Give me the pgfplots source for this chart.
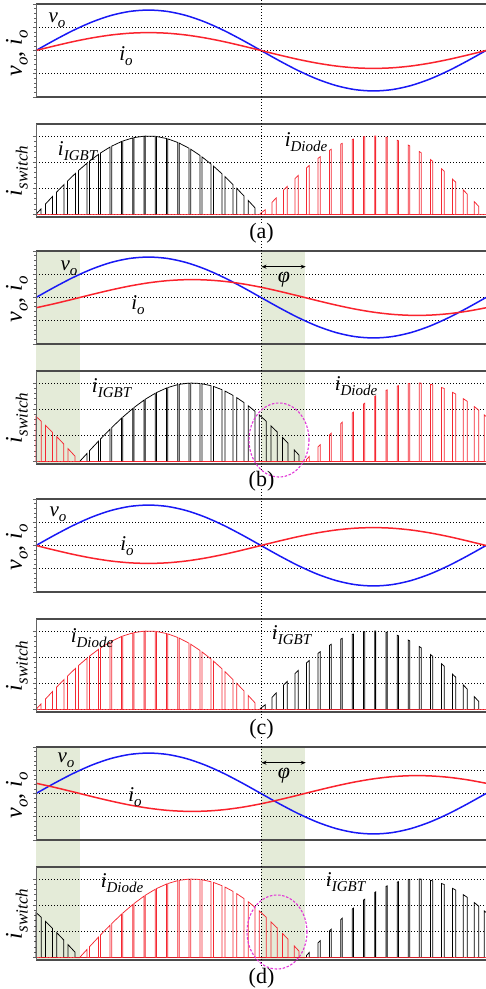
\documentclass[border=0pt]{standalone}
\usepackage{fontspec}
\setmainfont{Liberation Serif}
\usepackage{pgfplots}
\usepackage{pgfplotstable}
\pgfplotsset{compat=1.18}
\usetikzlibrary{arrows.meta}

\definecolor{vblue}{RGB}{25,25,245}
\definecolor{ired}{RGB}{250,35,45}
\definecolor{pred}{RGB}{245,40,50}
\definecolor{band}{RGB}{228,235,216}
\definecolor{framegray}{RGB}{75,75,75}
\definecolor{axgray}{RGB}{100,100,100}
\definecolor{ring}{RGB}{225,55,215}

% output voltage (same in every case)
\pgfplotstableread{
t v
0 0
15 0.450
30 0.870
45 1.230
60 1.507
75 1.681
90 1.740
105 1.681
120 1.507
135 1.230
150 0.870
165 0.450
180 0
195 -0.450
210 -0.870
225 -1.230
240 -1.507
255 -1.681
270 -1.740
285 -1.681
300 -1.507
315 -1.230
330 -0.870
345 -0.450
360 0
}\vowave

% output current, in phase
\pgfplotstableread{
t i
0 0
15 0.199
30 0.385
45 0.544
60 0.667
75 0.744
90 0.770
105 0.744
120 0.667
135 0.544
150 0.385
165 0.199
180 0
195 -0.199
210 -0.385
225 -0.544
240 -0.667
255 -0.744
270 -0.770
285 -0.744
300 -0.667
315 -0.544
330 -0.385
345 -0.199
360 0
}\ioa

% output current, lagging by phi
\pgfplotstableread{
t i
0 -0.442
15 -0.263
30 -0.067
45 0.134
60 0.325
75 0.495
90 0.631
105 0.724
120 0.767
135 0.758
150 0.698
165 0.590
180 0.442
195 0.263
210 0.067
225 -0.134
240 -0.325
255 -0.495
270 -0.631
285 -0.724
300 -0.767
315 -0.758
330 -0.698
345 -0.590
360 -0.442
}\iob

% output current, in anti-phase
\pgfplotstableread{
t i
0 0
15 -0.199
30 -0.385
45 -0.544
60 -0.667
75 -0.744
90 -0.770
105 -0.744
120 -0.667
135 -0.544
150 -0.385
165 -0.199
180 0
195 0.199
210 0.385
225 0.544
240 0.667
255 0.744
270 0.770
285 0.744
300 0.667
315 0.544
330 0.385
345 0.199
360 0
}\ioc

% output current, anti-phase and lagging by phi
\pgfplotstableread{
t i
0 0.442
15 0.263
30 0.067
45 -0.134
60 -0.325
75 -0.495
90 -0.631
105 -0.724
120 -0.767
135 -0.758
150 -0.698
165 -0.590
180 -0.442
195 -0.263
210 -0.067
225 0.134
240 0.325
255 0.495
270 0.631
285 0.724
300 0.767
315 0.758
330 0.698
345 0.590
360 0.442
}\iod

% switch pulses, first half cycle (wide pulses)
\pgfplotstableread{
t i
0 0
0 0
3.9 0.204
3.9 0
7.6 0
7.6 0.397
13.2 0.685
13.2 0
16.4 0
16.4 0.847
22.4 1.143
22.4 0
25.2 0
25.2 1.277
31.6 1.572
31.6 0
34.0 0
34.0 1.678
40.8 1.960
40.8 0
42.8 0
42.8 2.038
50.0 2.298
50.0 0
51.6 0
51.6 2.351
59.2 2.577
59.2 0
60.5 0
60.5 2.611
68.3 2.787
68.3 0
69.4 0
69.4 2.808
77.4 2.928
77.4 0
78.4 0
78.4 2.939
86.4 2.994
86.4 0
87.4 0
87.4 2.997
95.4 2.987
95.4 0
96.4 0
96.4 2.981
104.4 2.906
104.4 0
105.4 0
105.4 2.892
113.4 2.753
113.4 0
114.5 0
114.5 2.730
122.3 2.536
122.3 0
123.7 0
123.7 2.496
131.1 2.261
131.1 0
132.8 0
132.8 2.201
140.0 1.928
140.0 0
142.0 0
142.0 1.847
148.8 1.554
148.8 0
151.2 0
151.2 1.445
157.6 1.143
157.6 0
160.5 0
160.5 1.001
166.3 0.711
166.3 0
169.7 0
169.7 0.536
175.1 0.256
175.1 0
}\pulseAone

% switch pulses, second half cycle (narrow pulses)
\pgfplotstableread{
t i
179.4 0
179.4 0.031
183.4 0.178
183.4 0
188.7 0
188.7 0.454
192.1 0.629
192.1 0
197.9 0
197.9 0.922
200.9 1.070
200.9 0
207.1 0
207.1 1.367
209.7 1.486
209.7 0
216.3 0
216.3 1.776
218.5 1.868
218.5 0
225.5 0
225.5 2.140
227.3 2.205
227.3 0
234.7 0
234.7 2.448
236.1 2.490
236.1 0
243.8 0
243.8 2.692
245.0 2.719
245.0 0
252.9 0
252.9 2.867
253.9 2.882
253.9 0
261.9 0
261.9 2.970
262.9 2.977
262.9 0
271.0 0
271.0 2.999
271.8 2.999
271.8 0
279.9 0
279.9 2.955
280.9 2.946
280.9 0
288.9 0
288.9 2.838
289.9 2.821
289.9 0
297.8 0
297.8 2.654
299.0 2.624
299.0 0
306.6 0
306.6 2.408
308.2 2.358
308.2 0
315.5 0
315.5 2.103
317.3 2.035
317.3 0
324.3 0
324.3 1.751
326.5 1.656
326.5 0
333.1 0
333.1 1.357
335.8 1.230
335.8 0
341.8 0
341.8 0.937
345.0 0.776
345.0 0
350.6 0
350.6 0.490
354.2 0.303
354.2 0
}\pulseAtwo

% phase-shifted case: device conducting before phi and after 180+phi
\pgfplotstableread{
t i
0 0
0 1.721
4.2 1.536
4.2 0
7.6 0
7.6 1.381
13.2 1.114
13.2 0
16.6 0
16.6 0.947
22.2 0.665
22.2 0
25.6 0
25.6 0.490
31.2 0.199
31.2 0
216.3 0
216.3 0.068
218.5 0.183
218.5 0
225.5 0
225.5 0.547
227.3 0.639
227.3 0
234.7 0
234.7 1.011
236.1 1.080
236.1 0
243.8 0
243.8 1.445
245.0 1.500
245.0 0
252.9 0
252.9 1.843
253.9 1.884
253.9 0
261.9 0
261.9 2.191
262.9 2.226
262.9 0
271.0 0
271.0 2.487
271.8 2.510
271.8 0
279.9 0
279.9 2.717
280.9 2.738
280.9 0
288.9 0
288.9 2.882
289.9 2.897
289.9 0
297.8 0
297.8 2.976
299.0 2.984
299.0 0
306.6 0
306.6 2.999
308.2 2.995
308.2 0
315.5 0
315.5 2.950
317.3 2.931
317.3 0
324.3 0
324.3 2.831
326.5 2.791
326.5 0
333.1 0
333.1 2.646
335.8 2.577
335.8 0
341.8 0
341.8 2.402
345.0 2.298
345.0 0
350.6 0
350.6 2.099
354.2 1.960
354.2 0
358.6 0
358.6 1.780
360 1.721
}\pulseBone

% phase-shifted case: device conducting from phi to 180+phi
\pgfplotstableread{
t i
35.0 0
40.8 0.303
40.8 0
42.8 0
42.8 0.407
50.0 0.776
50.0 0
51.6 0
51.6 0.857
59.2 1.230
59.2 0
60.5 0
60.5 1.292
68.3 1.647
68.3 0
69.4 0
69.4 1.695
77.4 2.023
77.4 0
78.4 0
78.4 2.061
86.4 2.345
86.4 0
87.4 0
87.4 2.377
95.4 2.609
95.4 0
96.4 0
96.4 2.634
104.4 2.808
104.4 0
105.4 0
105.4 2.826
113.4 2.939
113.4 0
114.5 0
114.5 2.950
122.3 2.997
122.3 0
123.7 0
123.7 2.999
131.1 2.983
131.1 0
132.8 0
132.8 2.972
140.0 2.898
140.0 0
142.0 0
142.0 2.869
148.8 2.745
148.8 0
151.2 0
151.2 2.692
157.6 2.528
157.6 0
160.5 0
160.5 2.442
166.3 2.254
166.3 0
169.7 0
169.7 2.132
175.1 1.924
175.1 0
178.6 0
178.6 1.780
184.2 1.536
184.2 0
187.9 0
187.9 1.367
192.9 1.129
192.9 0
197.2 0
197.2 0.917
201.6 0.695
201.6 0
206.5 0
206.5 0.443
210.3 0.246
210.3 0
}\pulseBtwo

\pgfplotsset{
  base/.style={scale only axis, width=450pt, height=93pt, anchor=north west,
    xmin=0, xmax=360, xtick=\empty,
    yticklabels={}, ytick pos=left, tick align=outside,
    major tick length=3pt, minor tick length=1.8pt, minor y tick num=4,
    tick style={draw=axgray, line width=0.7pt},
    axis line style={draw=none},
    ymajorgrids,
    major grid style={draw=black, line width=0.8pt, dash pattern=on 1.1pt off 1.9pt},
    clip=false},
  wave/.style={base, ymin=-2, ymax=2, ytick={-2,-1,0,1,2}},
  switch/.style={base, ymin=-0.1, ymax=3.46, ytick={0,1,2,3}},
  wavev/.style={draw=vblue, line width=1.5pt, smooth},
  wavei/.style={draw=ired, line width=1.5pt, smooth},
  pulse/.style={line width=0.75pt, sharp plot},
  baseline/.style={draw=ired, line width=1.4pt, opacity=0.85},
}

\newcommand\frameit{%
  \draw[draw=framegray, line width=1.1pt] (rel axis cs:0,1) -- (rel axis cs:1,1);
  \draw[draw=framegray, line width=1.1pt] (rel axis cs:0,0) -- (rel axis cs:1,0);
  \draw[draw=axgray, line width=0.8pt] (rel axis cs:0,0) -- (rel axis cs:0,1);}

% #1 top offset, #2 current table, #3/#4 first pulse set and colour, #5/#6 second
\newcommand\panel[6]{%
  \begin{axis}[wave, at={(36pt,-#1pt)}]
    \addplot[wavev] table {\vowave};
    \addplot[wavei] table {#2};
    \frameit
  \end{axis}
  \begin{axis}[switch, at={(36pt,-#1pt-120pt)}]
    \addplot[pulse, draw=#4] table {#3};
    \addplot[pulse, draw=#6] table {#5};
    \addplot[baseline] coordinates {(0,0) (360,0)};
    \frameit
  \end{axis}}

% italic symbol with italic subscript
\newcommand\sym[4]{{\fontsize{#1}{#1}\selectfont\textit{#3}\raisebox{-0.24em}{\fontsize{#2}{#2}\selectfont\textit{#4}}}}
\newcommand\ylabA{{\fontsize{24}{24}\selectfont\sym{24}{17}{v}{o}, \sym{24}{17}{i}{o}}}
\newcommand\ylabB{\sym{24}{17}{i}{switch}}
\newcommand\vdot[1]{\draw[black, line width=0.8pt, dash pattern=on 1.1pt off 1.9pt] (261pt,-#1pt+10pt) -- (261pt,-#1pt-220pt);}
\newcommand\tag[1]{{\fontsize{22}{22}\selectfont (#1)}}

\begin{document}
\begin{tikzpicture}
\useasboundingbox (0,0) rectangle (486pt,-989pt);

% shaded phase-shift intervals
\fill[band] (36pt,-251pt) rectangle (79.75pt,-464pt);
\fill[band] (261pt,-251pt) rectangle (304.75pt,-464pt);
\fill[band] (36pt,-747pt) rectangle (79.75pt,-960pt);
\fill[band] (261pt,-747pt) rectangle (304.75pt,-960pt);

% (a)
\panel{4}{\ioa}{\pulseAone}{black}{\pulseAtwo}{pred}
\vdot{4}
\node at (57pt,-20pt) {\sym{21}{15}{v}{o}};
\node at (126pt,-56pt) {\sym{21}{15}{i}{o}};
\node at (78pt,-151pt) {\sym{21}{15}{i}{IGBT}};
\node at (306pt,-142pt) {\sym{21}{15}{i}{Diode}};
\node[rotate=90] at (17pt,-53pt) {\ylabA};
\node[rotate=90] at (17pt,-171pt) {\ylabB};
\node at (261.5pt,-233pt) {\tag{a}};

% (b)
\panel{251}{\iob}{\pulseBone}{pred}{\pulseBtwo}{black}
\vdot{251}
\node at (69pt,-268pt) {\sym{21}{15}{v}{o}};
\node at (138pt,-305pt) {\sym{21}{15}{i}{o}};
\node at (112pt,-388pt) {\sym{21}{15}{i}{IGBT}};
\node at (356pt,-386pt) {\sym{21}{15}{i}{Diode}};
\node[rotate=90] at (17pt,-299pt) {\ylabA};
\node[rotate=90] at (17pt,-418pt) {\ylabB};
\draw[{Stealth[length=5pt,width=4pt]}-{Stealth[length=5pt,width=4pt]}, line width=0.8pt] (261.5pt,-266.7pt) -- (305.7pt,-266.7pt);
\node at (284pt,-280pt) {\fontsize{22}{22}\selectfont\textit{φ}};
\draw[ring, line width=1.1pt, dash pattern=on 2.5pt off 1.6pt] (279pt,-440pt) ellipse [x radius=30pt, y radius=37pt];
\node at (261.5pt,-481pt) {\tag{b}};

% (c)
\panel{499}{\ioc}{\pulseAone}{pred}{\pulseAtwo}{black}
\vdot{499}
\node at (58pt,-514pt) {\sym{21}{15}{v}{o}};
\node at (127pt,-546pt) {\sym{21}{15}{i}{o}};
\node at (92pt,-638pt) {\sym{21}{15}{i}{Diode}};
\node at (292pt,-635pt) {\sym{21}{15}{i}{IGBT}};
\node[rotate=90] at (17pt,-547pt) {\ylabA};
\node[rotate=90] at (17pt,-666pt) {\ylabB};
\node at (261.5pt,-729pt) {\tag{c}};

% (d)
\panel{747}{\iod}{\pulseBone}{black}{\pulseBtwo}{pred}
\vdot{747}
\node at (66pt,-760pt) {\sym{21}{15}{v}{o}};
\node at (135pt,-797pt) {\sym{21}{15}{i}{o}};
\node at (122pt,-883pt) {\sym{21}{15}{i}{Diode}};
\node at (346pt,-882pt) {\sym{21}{15}{i}{IGBT}};
\node[rotate=90] at (17pt,-795pt) {\ylabA};
\node[rotate=90] at (17pt,-914pt) {\ylabB};
\draw[{Stealth[length=5pt,width=4pt]}-{Stealth[length=5pt,width=4pt]}, line width=0.8pt] (261.5pt,-762.7pt) -- (305.7pt,-762.7pt);
\node at (284pt,-776pt) {\fontsize{22}{22}\selectfont\textit{φ}};
\draw[ring, line width=1.1pt, dash pattern=on 2.5pt off 1.6pt] (277pt,-932pt) ellipse [x radius=30pt, y radius=37pt];
\node at (261.5pt,-978pt) {\tag{d}};
\end{tikzpicture}
\end{document}
